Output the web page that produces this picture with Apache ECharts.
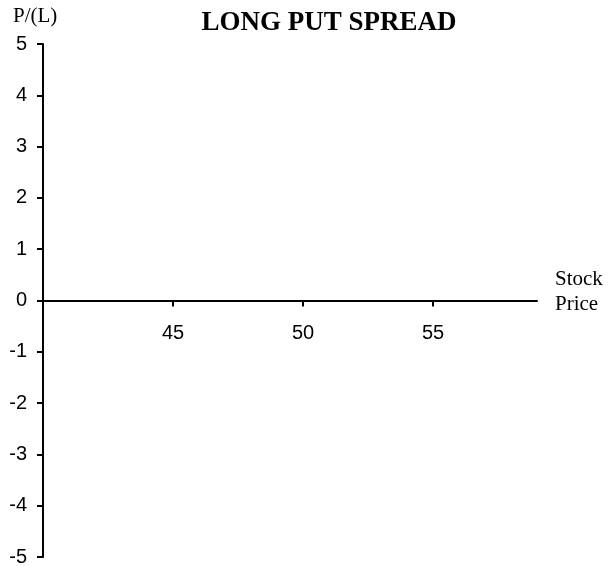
<!DOCTYPE html>
<html><head><meta charset="utf-8">
<script src="https://cdn.jsdelivr.net/npm/echarts@6/dist/echarts.min.js"></script>
<style>html,body{margin:0;padding:0;background:#fff}#c{width:610px;height:566px}</style>
</head><body><div id="c"></div>
<script>
var chartTitle = 'LONG PUT SPREAD';
var yAxisTitle = 'P/(L)';
var xAxisTitle = 'Stock\nPrice';
var xRange = [40, 59];
var xTickStep = 5;
var xTickLabels = [45, 50, 55];
var yRange = [-5, 5];
var yTickStep = 1;
var seriesValues = [];

var gridTop = 44, gridBottom = 9, chartH = 566;
var plotH = chartH - gridTop - gridBottom;
// place the x axis line where y = 0 falls inside the plot
var zeroOffset = -plotH * (0 - yRange[0]) / (yRange[1] - yRange[0]);

var chart = echarts.init(document.getElementById('c'), null, {renderer: 'canvas'});
chart.setOption({
  animation: false,
  backgroundColor: '#fff',
  title: {
    text: chartTitle, left: 324, top: 5, textAlign: 'center',
    textStyle: {fontFamily: 'Liberation Serif', fontWeight: 'bold', fontSize: 27, color: '#000'}
  },
  grid: {left: 43, right: 73, top: gridTop, bottom: gridBottom, containLabel: false, outerBoundsMode: 'none'},
  xAxis: {
    type: 'value', min: xRange[0], max: xRange[1], interval: xTickStep,
    position: 'bottom', offset: zeroOffset,
    axisLine: {onZero: false, lineStyle: {color: '#000', width: 2}},
    axisTick: {length: 6, lineStyle: {color: '#000', width: 2}},
    splitLine: {show: false},
    axisLabel: {
      margin: 23, fontFamily: 'Liberation Sans', fontSize: 20, color: '#000',
      showMaxLabel: false, showMinLabel: false,
      formatter: function (v) { return xTickLabels.indexOf(v) >= 0 ? String(v) : ''; }
    }
  },
  yAxis: {
    type: 'value', min: yRange[0], max: yRange[1], interval: yTickStep,
    axisLine: {onZero: false, lineStyle: {color: '#000', width: 2}},
    axisTick: {length: 6, lineStyle: {color: '#000', width: 2}},
    splitLine: {show: false},
    axisLabel: {margin: 16, fontFamily: 'Liberation Sans', fontSize: 20, color: '#000'}
  },
  graphic: [
    {type: 'text', left: 13, top: 6, style: {text: yAxisTitle, font: '21px "Liberation Serif"', fill: '#000'}},
    {type: 'text', left: 555, top: 267, style: {text: xAxisTitle, font: '21px "Liberation Serif"', fill: '#000', lineHeight: 25}}
  ],
  series: [{type: 'line', data: seriesValues, symbol: 'none'}]
});
</script></body></html>
